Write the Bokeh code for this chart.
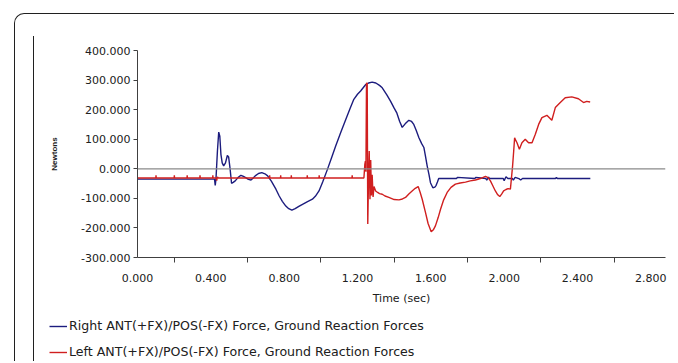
from bokeh.plotting import figure
from bokeh.layouts import column
from bokeh.models import (Range1d, FixedTicker, Span, Legend, LegendItem,
                          NumeralTickFormatter)
from bokeh.embed import file_html
from bokeh.resources import INLINE

# ---- data ----
right_t = [0.000, 0.150, 0.300, 0.420, 0.424, 0.428, 0.436, 0.443, 0.449, 0.455,
           0.462, 0.470, 0.480, 0.490, 0.497, 0.505, 0.513, 0.522, 0.533, 0.548,
           0.564, 0.578, 0.590, 0.605, 0.619, 0.630, 0.642, 0.660, 0.678, 0.695,
           0.710, 0.730, 0.755, 0.773, 0.790, 0.809, 0.825, 0.842, 0.860, 0.880,
           0.900, 0.925, 0.954, 0.970, 0.990, 1.010, 1.036, 1.060, 1.081, 1.110,
           1.136, 1.160, 1.180, 1.200, 1.217, 1.245, 1.260, 1.280, 1.300, 1.320,
           1.335, 1.360, 1.380, 1.400, 1.415, 1.430, 1.444, 1.460, 1.480, 1.495,
           1.507, 1.520, 1.535, 1.550, 1.562, 1.570, 1.580, 1.590, 1.598, 1.611,
           1.622, 1.629, 1.636, 1.643, 1.740, 1.745, 1.840, 1.845, 1.900, 1.905,
           1.915, 1.920, 1.995, 2.000, 2.010, 2.020, 2.045, 2.050, 2.060, 2.080,
           2.090, 2.100, 2.280, 2.285, 2.290, 2.470]
right_v = [-35, -35, -35, -35, -56, -35, 60, 124, 110, 49,
           20, 10, 20, 45, 40, 0, -49, -46, -41, -30,
           -22, -26, -30, -36, -38, -32, -24, -16, -13, -17,
           -24, -42, -69, -92, -110, -126, -135, -140, -135, -127,
           -120, -112, -103, -93, -75, -45, -2, 40, 77, 125,
           167, 205, 235, 252, 263, 285, 290, 293, 290, 282,
           274, 250, 229, 205, 188, 160, 140, 152, 164, 160,
           150, 130, 105, 85, 72, 45, 10, -20, -47, -64,
           -62, -56, -45, -33, -33, -29, -33, -29, -33, -38,
           -28, -33, -33, -40, -27, -33, -33, -38, -29, -33,
           -38, -33, -33, -29, -33, -33]

left_t = [0.000, 0.100, 0.101, 0.102, 0.200, 0.201, 0.202, 0.270, 0.271, 0.272,
          0.340, 0.341, 0.342, 0.410, 0.411, 0.412, 0.430, 0.432, 0.436, 0.440,
          0.720, 0.721, 0.722, 0.780, 0.781, 0.782, 0.838, 0.839, 0.840, 0.925,
          0.926, 0.927, 0.990, 0.991, 0.992, 1.170, 1.171, 1.172, 1.235, 1.240,
          1.243, 1.246, 1.249, 1.253, 1.256, 1.260, 1.264, 1.268, 1.272, 1.276,
          1.280, 1.285, 1.290, 1.299, 1.310, 1.320, 1.335, 1.350, 1.371, 1.400,
          1.426, 1.445, 1.462, 1.480, 1.498, 1.515, 1.531, 1.542, 1.553, 1.571,
          1.585, 1.602, 1.615, 1.625, 1.640, 1.653, 1.670, 1.689, 1.710, 1.734,
          1.760, 1.789, 1.815, 1.843, 1.870, 1.898, 1.912, 1.925, 1.940, 1.952,
          1.965, 1.976, 1.987, 1.997, 2.010, 2.021, 2.034, 2.040, 2.046, 2.052,
          2.057, 2.064, 2.070, 2.083, 2.097, 2.115, 2.133, 2.152, 2.170, 2.188,
          2.206, 2.233, 2.260, 2.279, 2.306, 2.333, 2.369, 2.405, 2.433, 2.450,
          2.469]
left_v = [-31, -31, -22, -31, -31, -22, -31, -31, -22, -31,
          -31, -22, -31, -31, -22, -31, -31, -40, -27, -31,
          -31, -22, -31, -31, -22, -31, -31, -22, -31, -31,
          -22, -31, -31, -22, -31, -31, -22, -31, -31, 15,
          26, -10, 289, 289, -187, -40, 60, -103, 30, -90,
          -20, -95, -60, -75, -80, -84, -86, -92, -97, -104,
          -105, -102, -97, -85, -75, -66, -60, -80, -103, -148,
          -185, -213, -205, -193, -165, -137, -105, -80, -63, -52,
          -48, -45, -41, -38, -33, -26, -30, -41, -60, -75,
          -88, -94, -85, -75, -70, -67, -69, -30, 10, 60,
          105, 95, 88, 66, 88, 100, 88, 88, 117, 150,
          173, 181, 164, 207, 224, 240, 243, 237, 224, 228,
          226]

x_tick_values = [0.0, 0.4, 0.8, 1.2, 1.6, 2.0, 2.4, 2.8]
x_minor_ticks = [0.2, 0.6, 1.0, 1.4, 1.8, 2.2, 2.6]
y_tick_values = [-300, -200, -100, 0, 100, 200, 300, 400]

series_names = ["Right ANT(+FX)/POS(-FX) Force, Ground Reaction Forces",
                "Left ANT(+FX)/POS(-FX) Force, Ground Reaction Forces"]
series_colors = ["#1c1c7e", "#d01f1f"]

FONT = "DejaVu Sans"
TEXT = "#202020"
AXIS = "#404040"

# ---------------- main chart ----------------
p = figure(width=640, height=276, output_backend="svg", toolbar_location=None,
           x_range=Range1d(0, 2.88), y_range=Range1d(-300, 400),
           min_border_left=103, min_border_right=9, min_border_top=14,
           min_border_bottom=55, frame_align=False)
p.outline_line_color = None
p.xgrid.visible = False
p.ygrid.visible = False

xa = p.xaxis[0]
xa.ticker = FixedTicker(ticks=x_tick_values, minor_ticks=x_minor_ticks)
xa.formatter = NumeralTickFormatter(format="0.000")
xa.axis_line_color = AXIS
xa.major_tick_line_color = None
xa.major_tick_out = 0
xa.major_tick_in = 0
xa.minor_tick_line_color = AXIS
xa.minor_tick_out = 5
xa.minor_tick_in = 0
xa.major_label_standoff = 11
xa.major_label_text_font = FONT
xa.major_label_text_font_size = "11px"
xa.major_label_text_color = TEXT
xa.axis_label = "Time (sec)"
xa.axis_label_text_font = FONT
xa.axis_label_text_font_size = "11px"
xa.axis_label_text_font_style = "normal"
xa.axis_label_text_color = TEXT
xa.axis_label_standoff = 7

ya = p.yaxis[0]
ya.ticker = FixedTicker(ticks=y_tick_values, minor_ticks=[])
ya.formatter = NumeralTickFormatter(format="0.000")
ya.axis_line_color = AXIS
ya.major_tick_line_color = AXIS
ya.major_tick_out = 4
ya.major_tick_in = 0
ya.minor_tick_line_color = None
ya.major_label_standoff = 3
ya.major_label_text_font = FONT
ya.major_label_text_font_size = "11px"
ya.major_label_text_color = TEXT
ya.axis_label = "Newtons"
ya.axis_label_text_font = "Liberation Sans"
ya.axis_label_text_font_size = "8px"
ya.axis_label_text_font_style = "bold"
ya.axis_label_text_color = TEXT
ya.axis_label_standoff = 19

p.add_layout(Span(location=0, dimension="width", line_color="#8a8a8a", line_width=1.2))

r_right = p.line(right_t, right_v, line_color=series_colors[0], line_width=1.4)
r_left = p.line(left_t, left_v, line_color=series_colors[1], line_width=1.4)

# ---------------- legend strip (same series, plotted out of view) ----------------
pl = figure(width=640, height=49, output_backend="svg", toolbar_location=None,
            x_range=Range1d(0, 2.88), y_range=Range1d(1000, 1001),
            x_axis_location=None, y_axis_location=None,
            min_border_left=0, min_border_right=0, min_border_top=0,
            min_border_bottom=0, frame_align=False)
pl.grid.visible = False
pl.outline_line_color = None
lr_right = pl.line(right_t, right_v, line_color=series_colors[0], line_width=1.4)
lr_left = pl.line(left_t, left_v, line_color=series_colors[1], line_width=1.4)
legend = Legend(items=[LegendItem(label=series_names[0], renderers=[lr_right]),
                       LegendItem(label=series_names[1], renderers=[lr_left])],
                location=(15, 2), orientation="vertical",
                padding=0, margin=0, spacing=11,
                glyph_width=18, glyph_height=12, label_height=12,
                label_standoff=2,
                label_text_font=FONT, label_text_font_size="12.6px",
                label_text_color=TEXT,
                border_line_color=None, background_fill_alpha=0)
pl.add_layout(legend, "center")

# ---------------- page frame (rounded box + inner rule) ----------------
inner = column(p, pl, spacing=0, margin=(22, 0, 0, 18),
               styles={"border-left": "1.5px solid #202020"})
outer = column(inner, spacing=0, margin=(13, 0, 0, 14),
               styles={"border-left": "1.5px solid #202020",
                       "border-top": "1.5px solid #202020",
                       "border-top-left-radius": "10px"})

open("out.html", "w").write(file_html(outer, INLINE))
